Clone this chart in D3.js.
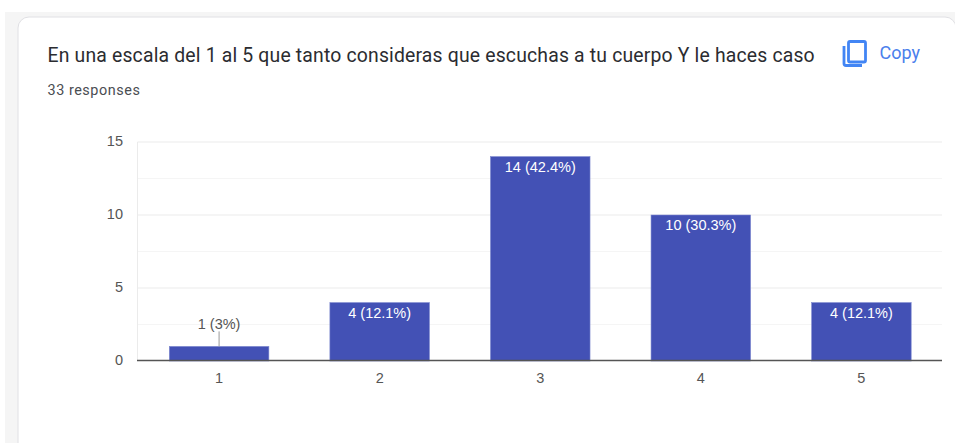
<!DOCTYPE html>
<html><head><meta charset="utf-8">
<script src="https://cdn.jsdelivr.net/npm/d3@7"></script>
<style>html,body{margin:0;padding:0;background:#fff;overflow:hidden}svg{display:block}</style>
</head><body><svg id="c" width="955" height="443"></svg>
<script>
const categories = ["1","2","3","4","5"];
const values = [1,4,14,10,4];
const labels = ["1 (3%)","4 (12.1%)","14 (42.4%)","10 (30.3%)","4 (12.1%)"];
const yTicks = [0,5,10,15];
const yMinor = [2.5,7.5,12.5];
const titleText = "En una escala del 1 al 5 que tanto consideras que escuchas a tu cuerpo Y le haces caso";
const subtitleText = "33 responses";

const svg = d3.select("#c");
svg.append("rect").attr("x",5).attr("y",12).attr("width",950).attr("height",431).attr("fill","#f5f5f5");
svg.append("path").attr("d","M18 460V28a11 11 0 0 1 11-11H945a11 11 0 0 1 11 11V460Z").attr("fill","#fff").attr("stroke","#e0e0e4").attr("stroke-width",1);

svg.append("text").attr("x",47.5).attr("y",62).attr("font-family","Roboto").attr("font-size",19.4).attr("letter-spacing",0.17).attr("fill","#2b2c30").text(titleText);
svg.append("text").attr("x",47.5).attr("y",95).attr("font-family","Roboto").attr("font-size",14.4).attr("letter-spacing",0.55).attr("fill","#4a4d52").text(subtitleText);

const icon = svg.append("g").attr("fill","none").attr("stroke","#4285f4").attr("stroke-width",2.8);
icon.append("rect").attr("x",848.5).attr("y",41.5).attr("width",17).attr("height",20.5).attr("rx",1.5);
icon.append("path").attr("d","M844 46V63.5a2 2 0 0 0 2 2H862");
svg.append("text").attr("x",879.5).attr("y",59).attr("font-family","Roboto").attr("font-size",18).attr("fill","#4a80ec").text("Copy");

const x = d3.scaleBand().domain(categories).range([138,942.5]).paddingInner(0.38).paddingOuter(0.195);
const y = d3.scaleLinear().domain([0,15]).range([361,142]);

const g = svg.append("g");
g.selectAll(".minor").data(yMinor).join("line").attr("x1",137.5).attr("x2",942).attr("y1",d=>y(d)).attr("y2",d=>y(d)).attr("stroke","#f5f5f5");
g.selectAll(".major").data(yTicks.slice(1)).join("line").attr("x1",137.5).attr("x2",942).attr("y1",d=>y(d)).attr("y2",d=>y(d)).attr("stroke","#ebebeb");
g.append("line").attr("x1",137.5).attr("x2",137.5).attr("y1",y(15)).attr("y2",y(0)).attr("stroke","#ebebeb");

g.selectAll("text.yt").data(yTicks).join("text").attr("class","yt").attr("x",123).attr("y",d=>y(d)+4).attr("text-anchor","end").attr("font-family","Liberation Sans").attr("font-size",14.5).attr("fill","#555").text(d=>d);

g.selectAll("rect.bar").data(values).join("rect").attr("class","bar")
 .attr("x",(d,i)=>x(categories[i])).attr("y",d=>y(d)).attr("width",x.bandwidth()).attr("height",d=>y(0)-y(d))
 .attr("fill","#4351b5").attr("stroke","#7d88cf").attr("stroke-width",0.6);

g.append("line").attr("x1",137).attr("x2",942).attr("y1",y(0)-0.5).attr("y2",y(0)-0.5).attr("stroke","#555").attr("stroke-width",1.4);

g.selectAll("text.xt").data(categories).join("text").attr("class","xt").attr("x",d=>x(d)+x.bandwidth()/2).attr("y",383).attr("text-anchor","middle").attr("font-family","Liberation Sans").attr("font-size",14.5).attr("fill","#555").text(d=>d);

values.forEach((v,i)=>{
  const cx = x(categories[i])+x.bandwidth()/2;
  if(v<2){
    g.append("line").attr("x1",cx).attr("x2",cx).attr("y1",y(v)).attr("y2",y(v)-15).attr("stroke","#999");
    g.append("text").attr("x",cx).attr("y",y(v)-17).attr("text-anchor","middle").attr("font-family","Liberation Sans").attr("font-size",14.5).attr("fill","#555").text(labels[i]);
  } else {
    g.append("text").attr("x",cx).attr("y",y(v)+15).attr("text-anchor","middle").attr("font-family","Liberation Sans").attr("font-size",14.5).attr("fill","#fff").text(labels[i]);
  }
});
</script></body></html>
